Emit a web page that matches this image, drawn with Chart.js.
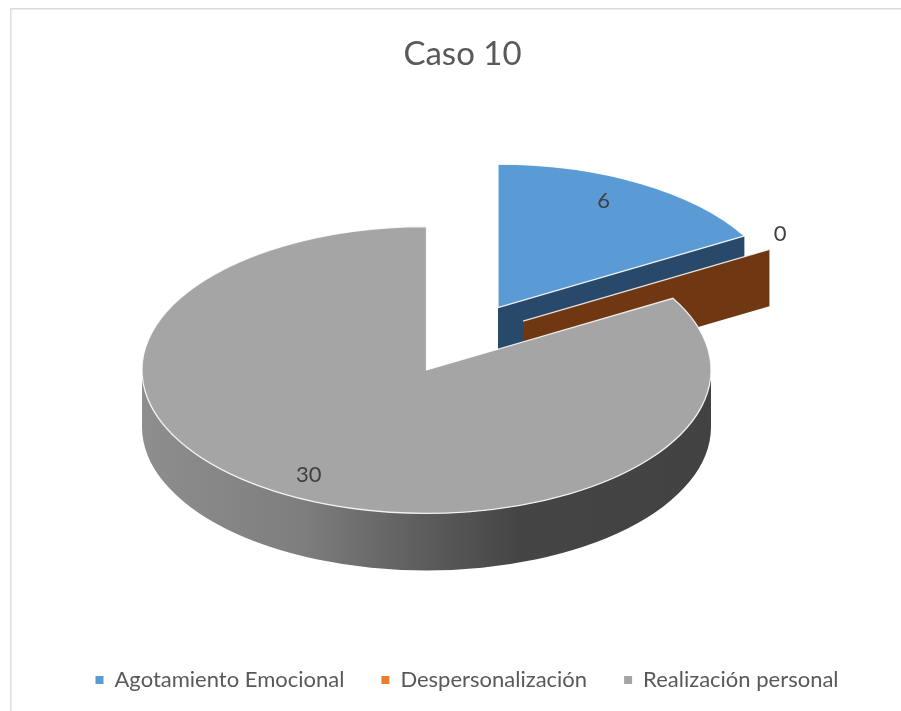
<!DOCTYPE html>
<html lang="es">
<head>
<meta charset="utf-8">
<title>Caso 10</title>
<script src="https://cdn.jsdelivr.net/npm/chart.js@4/dist/chart.umd.min.js"></script>
<style>
  html, body { margin: 0; padding: 0; background: #ffffff; }
  canvas { display: block; }
</style>
</head>
<body>
<canvas id="casoChart" width="901" height="711"></canvas>
<script>
// Burnout dimensions for the case
const categories = ["Agotamiento Emocional", "Despersonalización", "Realización personal"];
const values = [6, 0, 30];
const topColors = ["#5b9bd5", "#ed7d31", "#a5a5a5"];
const wallColors = ["#28496a", "#703812", "#444444"];

// Look of the tilted pie
const pieCentre = { x: 426.5, y: 370 };
const pieRadius = 284.5;
const tilt = 0.504;
const depth = 57;
const DEG = Math.PI / 180;
const legendShift = 4.5;

// Slices pulled out of the pie: distance and direction correction
const explodeDist = [143, 137, 0];
const explodeTurn = [0, -15.2, 0];

// Value labels: fraction of the radius and direction correction
const labelDist = [0.83, 1.09, 0.84];
const labelTurn = [-3.4, -4, -0.45];

function sliceOrigin(arc, i) {
  const mid = (arc.startAngle + arc.endAngle) / 2 + explodeTurn[i] * DEG;
  return {
    x: pieCentre.x + Math.cos(mid) * explodeDist[i],
    y: pieCentre.y + Math.sin(mid) * explodeDist[i] * tilt,
  };
}

function rimGradient(ctx, o, r) {
  const g = ctx.createLinearGradient(o.x - r, 0, o.x + r, 0);
  g.addColorStop(0, "#8e8e8e");
  g.addColorStop(0.28, "#7e7e7e");
  g.addColorStop(0.5, "#5c5c5c");
  g.addColorStop(0.66, "#454545");
  g.addColorStop(1, "#424242");
  return g;
}

// Flat wall along one straight edge of a slice
function drawEdgeWall(ctx, o, r, angle, color) {
  const ex = o.x + Math.cos(angle) * r;
  const ey = o.y + Math.sin(angle) * r * tilt;
  ctx.beginPath();
  ctx.moveTo(o.x, o.y);
  ctx.lineTo(ex, ey);
  ctx.lineTo(ex, ey + depth);
  ctx.lineTo(o.x, o.y + depth);
  ctx.closePath();
  ctx.fillStyle = color;
  ctx.fill();
}

// Curved wall, only the part that faces the viewer
function drawRimWall(ctx, o, r, start, end) {
  const a = Math.max(start, 0);
  const b = Math.min(end, Math.PI);
  if (b <= a) return;
  ctx.beginPath();
  ctx.ellipse(o.x, o.y, r, r * tilt, 0, a, b);
  ctx.ellipse(o.x, o.y + depth, r, r * tilt, 0, b, a, true);
  ctx.closePath();
  ctx.fillStyle = rimGradient(ctx, o, r);
  ctx.fill();
}

function strokeSliceOutline(ctx, o, r, start, end) {
  ctx.beginPath();
  ctx.moveTo(o.x, o.y);
  if (end > start) {
    ctx.ellipse(o.x, o.y, r, r * tilt, 0, start, end);
    ctx.closePath();
  } else {
    ctx.lineTo(o.x + Math.cos(start) * r, o.y + Math.sin(start) * r * tilt);
  }
  ctx.strokeStyle = "rgba(255, 255, 255, 0.85)";
  ctx.lineWidth = 1.3;
  ctx.stroke();
}

const pie3d = {
  id: "pie3d",
  afterLayout(chart) {
    chart.legend.left += legendShift;
    chart.legend.right += legendShift;
  },
  beforeDraw(chart) {
    // thin frame, only left and top fall inside the page
    const ctx = chart.ctx;
    ctx.save();
    ctx.strokeStyle = "#dcdcdc";
    ctx.lineWidth = 1.5;
    ctx.strokeRect(10.75, 8.75, 1000, 1000);
    ctx.restore();
  },
  beforeDatasetDraw(chart, args) {
    const ctx = chart.ctx;
    args.meta.data.forEach((arc, i) => {
      const o = sliceOrigin(arc, i);
      const r = arc.outerRadius;
      ctx.save();
      if (Math.cos(arc.endAngle) > 0.001) drawEdgeWall(ctx, o, r, arc.endAngle, wallColors[i]);
      if (Math.cos(arc.startAngle) < -0.001) drawEdgeWall(ctx, o, r, arc.startAngle, wallColors[i]);
      drawRimWall(ctx, o, r, arc.startAngle, arc.endAngle);

      // flatten the regular arc element into the top of the slice
      ctx.save();
      ctx.translate(o.x, o.y);
      ctx.scale(1, tilt);
      ctx.translate(-arc.x, -arc.y);
      arc.draw(ctx);
      ctx.restore();

      strokeSliceOutline(ctx, o, r, arc.startAngle, arc.endAngle);
      ctx.restore();
    });
    return false;
  },
  afterDatasetsDraw(chart) {
    const ctx = chart.ctx;
    const meta = chart.getDatasetMeta(0);
    ctx.save();
    ctx.font = "22px Lato";
    ctx.fillStyle = "#404040";
    ctx.textAlign = "center";
    ctx.textBaseline = "middle";
    meta.data.forEach((arc, i) => {
      const o = sliceOrigin(arc, i);
      const a = (arc.startAngle + arc.endAngle) / 2 + labelTurn[i] * DEG;
      const d = arc.outerRadius * labelDist[i];
      ctx.fillText(String(values[i]), o.x + Math.cos(a) * d, o.y + Math.sin(a) * d * tilt);
    });
    ctx.restore();
  },
};

new Chart(document.getElementById("casoChart").getContext("2d"), {
  type: "pie",
  data: {
    labels: categories,
    datasets: [
      {
        data: values,
        backgroundColor: topColors,
        borderWidth: 0,
        clip: false,
      },
    ],
  },
  options: {
    responsive: false,
    animation: false,
    radius: pieRadius,
    layout: {
      padding: { left: 24, right: 0, top: 0, bottom: 10 },
    },
    plugins: {
      title: {
        display: true,
        text: "Caso 10",
        color: "#595959",
        font: { family: "Lato", size: 33, weight: "normal" },
        padding: { top: 35, bottom: 10 },
      },
      legend: {
        position: "bottom",
        labels: {
          usePointStyle: true,
          pointStyle: "rect",
          boxWidth: 8,
          boxHeight: 8,
          padding: 37,
          color: "#595959",
          font: { family: "Lato", size: 22 },
        },
      },
      tooltip: { enabled: false },
    },
  },
  plugins: [pie3d],
});
</script>
</body>
</html>
